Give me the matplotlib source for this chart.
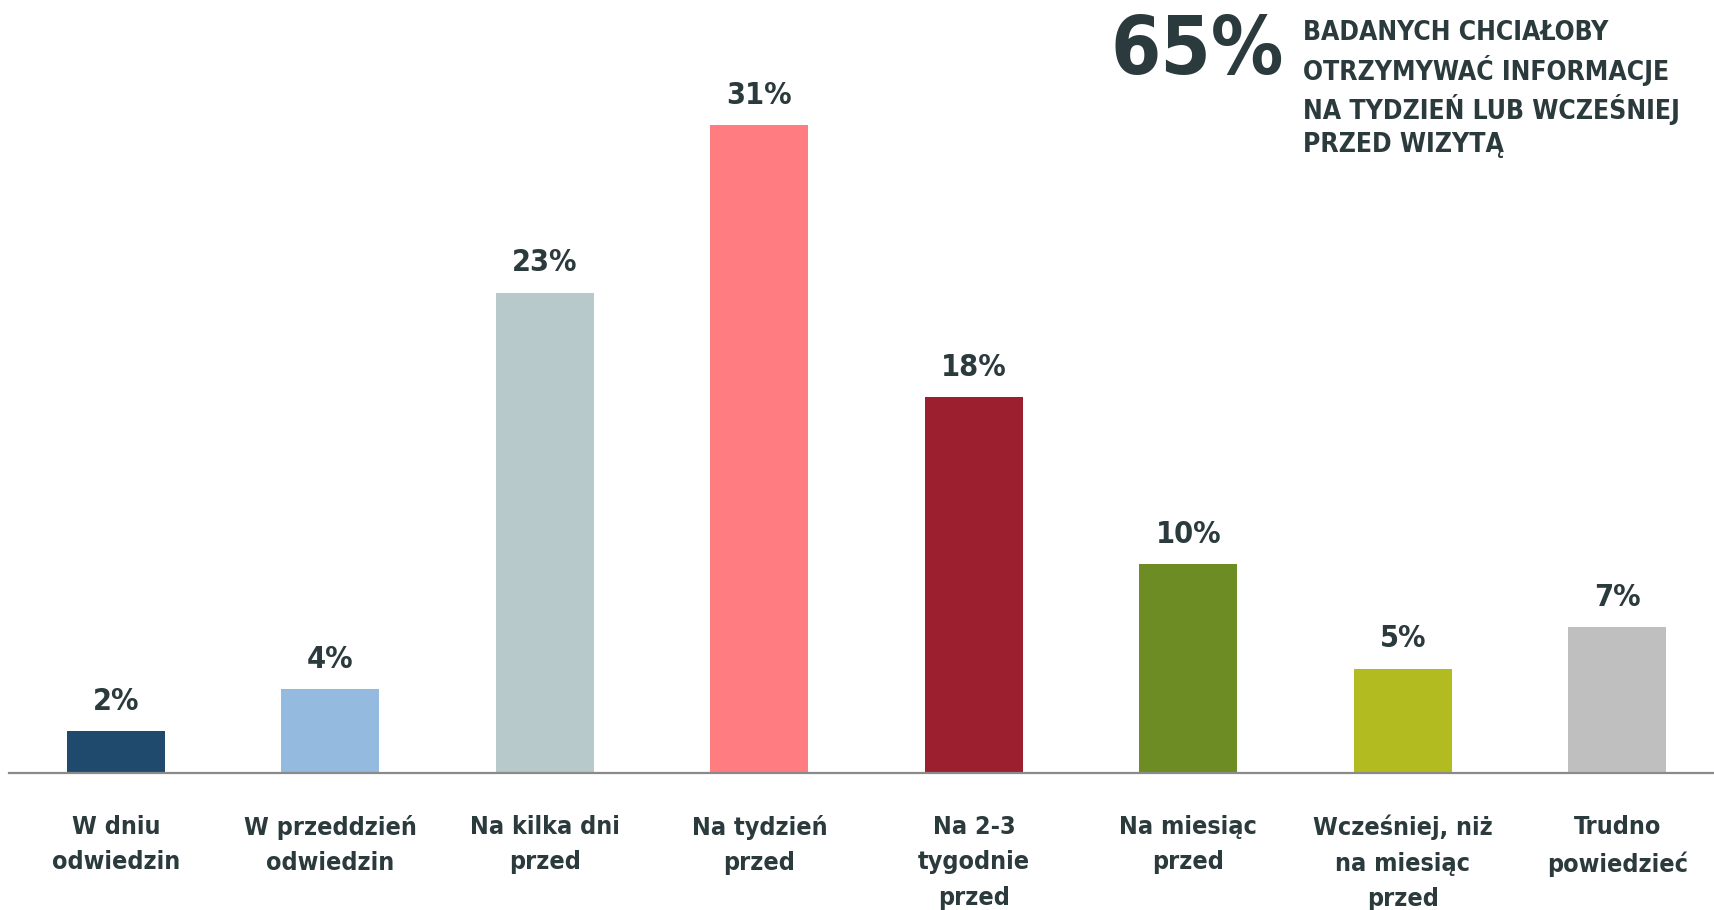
import matplotlib.pyplot as plt
import numpy as np

categories = ["W dniu\nodwiedzin", "W przeddzień\nodwiedzin", "Na kilka dni\nprzed",
              "Na tydzień\nprzed", "Na 2-3\ntygodnie\nprzed", "Na miesiąc\nprzed",
              "Wcześniej, niż\nna miesiąc\nprzed", "Trudno\npowiedzieć"]
values = [2, 4, 23, 31, 18, 10, 5, 7]
colors = ["#1f4a6e", "#95bae0", "#b8c9cc", "#ff7d80", "#9c1f30", "#6d8c24", "#b2bb1f", "#bfbfbf"]
headline = "65%"
headline_text = "BADANYCH CHCIAŁOBY\nOTRZYMYWAĆ INFORMACJE\nNA TYDZIEŃ LUB WCZEŚNIEJ\nPRZED WIZYTĄ"

plt.rcParams['font.family'] = ['DejaVu Sans']
plt.rcParams['font.stretch'] = 'condensed'
plt.rcParams['font.weight'] = 'bold'
txt = "#2b3a3c"

fig = plt.figure(figsize=(17.14, 9.10), dpi=100)
ax = fig.add_axes([0.005, 0.1505, 0.995, 0.8495])

x = np.arange(len(values))
ax.bar(x, values, width=0.457, color=colors)
for xi, v in zip(x, values):
    ax.annotate(f"{v}%", (xi, v), xytext=(0, 11), textcoords="offset points",
                ha="center", va="bottom", fontsize=22, fontweight="bold", color=txt)

ax.set_xlim(-0.5, 7.45)
ax.set_ylim(0, 37.0)
for s in ["top", "right", "left"]:
    ax.spines[s].set_visible(False)
ax.spines["bottom"].set_color("#8a8a8a")
ax.spines["bottom"].set_linewidth(1.6)
ax.set_yticks([])
ax.set_xticks(x)
ax.set_xticklabels(categories, fontsize=18, fontweight="bold", color=txt, linespacing=1.6)
ax.tick_params(axis="x", length=0, pad=30)

fig.text(1284 / 1714, 1 - 52 / 910, headline, fontsize=58, fontweight="bold",
         color=txt, ha="right", va="center")
fig.text(1303 / 1714, 1 - 89 / 910, headline_text, fontsize=19, fontweight="bold",
         color=txt, ha="left", va="center", linespacing=1.35)

fig.savefig("out.png", dpi=100)
